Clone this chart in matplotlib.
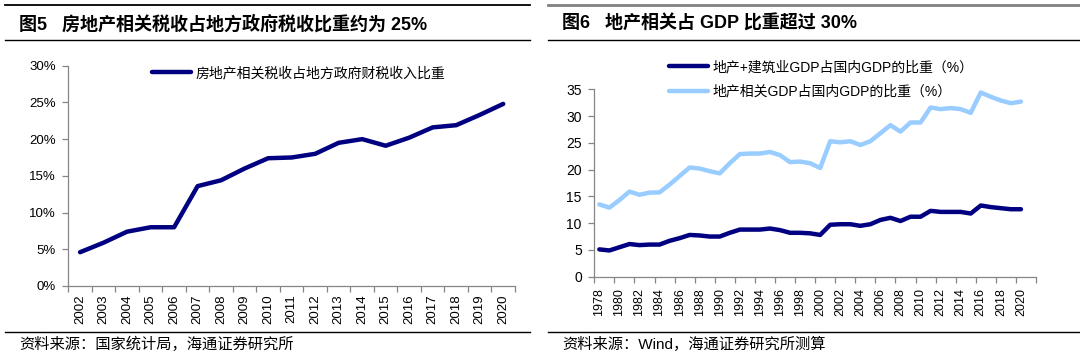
import matplotlib
matplotlib.use('Agg')
import matplotlib.pyplot as plt
from matplotlib.lines import Line2D
from matplotlib.ticker import FuncFormatter
import numpy as np

plt.rcParams['font.family'] = ['Liberation Sans', 'Noto Sans CJK SC']

# ---------------- data ----------------
years_left = [str(y) for y in range(2002, 2021)]
tax_share = [4.6, 5.9, 7.4, 8.0, 8.0, 13.6, 14.4, 16.0, 17.4, 17.5,
             18.0, 19.5, 20.0, 19.1, 20.2, 21.6, 21.9, 23.3, 24.8]

years_right = [str(y) for y in range(1978, 2021)]
re_construction = [5.1, 4.9, 5.5, 6.1, 5.9, 6.0, 6.0, 6.7, 7.2, 7.8,
                   7.7, 7.5, 7.5, 8.2, 8.8, 8.8, 8.8, 9.0, 8.7, 8.2,
                   8.2, 8.1, 7.8, 9.7, 9.8, 9.8, 9.5, 9.8, 10.6, 11.0,
                   10.4, 11.2, 11.2, 12.3, 12.1, 12.1, 12.1, 11.8, 13.3, 13.0,
                   12.8, 12.6, 12.6]
re_related = [13.5, 12.9, 14.3, 15.9, 15.3, 15.7, 15.75, 17.2, 18.8, 20.4,
              20.2, 19.7, 19.3, 21.2, 22.9, 23.0, 23.0, 23.3, 22.7, 21.4,
              21.5, 21.2, 20.3, 25.3, 25.1, 25.3, 24.6, 25.3, 26.8, 28.3,
              27.1, 28.8, 28.8, 31.6, 31.3, 31.5, 31.3, 30.6, 34.4, 33.6,
              32.9, 32.4, 32.7]

left_label = '房地产相关税收占地方政府财税收入比重'
right_label1 = '地产+建筑业GDP占国内GDP的比重（%）'
right_label2 = '地产相关GDP占国内GDP的比重（%）'

title_left = '图5   房地产相关税收占地方政府税收比重约为 25%'
title_right = '图6   地产相关占 GDP 比重超过 30%'
source_left = '资料来源：国家统计局，海通证券研究所'
source_right = '资料来源：Wind，海通证券研究所测算'

NAVY = '#000080'
LIGHT = '#99CCFF'
SPINE = '#868686'

W, H = 1080, 359
fig = plt.figure(figsize=(W / 100, H / 100), dpi=100)


def fx(px):
    return px / W


def fy(py):
    return 1 - py / H


def rule(x0, x1, y, color='black', lw=1.0):
    fig.add_artist(Line2D([fx(x0), fx(x1)], [fy(y), fy(y)],
                          transform=fig.transFigure, color=color, lw=lw))


def style_axes(ax):
    for s in ['top', 'right']:
        ax.spines[s].set_visible(False)
    for s in ['left', 'bottom']:
        ax.spines[s].set_color(SPINE)
        ax.spines[s].set_linewidth(0.9)
    ax.tick_params(axis='y', which='major', direction='out', length=4,
                   color=SPINE, width=0.9, pad=5)
    ax.tick_params(axis='x', which='major', length=0, pad=6)
    ax.tick_params(axis='x', which='minor', direction='out', length=4,
                   color=SPINE, width=0.9)


# ---------------- left chart ----------------
axL = fig.add_axes([fx(68.3), fy(286), fx(515) - fx(68.3), fy(65.7) - fy(286)])
xl = np.arange(len(years_left))
lineL, = axL.plot(xl, tax_share, color=NAVY, lw=3.2,
                  solid_joinstyle='round', solid_capstyle='round')
axL.set_xlim(-0.5, len(years_left) - 0.5)
axL.set_ylim(0, 30)
axL.set_yticks(np.arange(0, 31, 5))
axL.yaxis.set_major_formatter(FuncFormatter(lambda v, p: f'{int(v)}%'))
axL.set_xticks(xl)
axL.set_xticklabels(years_left, rotation=90, fontsize=9.5)
axL.set_xticks(np.arange(-0.5, len(years_left), 1), minor=True)
style_axes(axL)
for t in axL.get_yticklabels():
    t.set_fontsize(9.5)
axL.legend([lineL], [left_label], loc='upper left', frameon=False,
           bbox_to_anchor=(fx(151.7), fy(66)), bbox_transform=fig.transFigure,
           fontsize=10, handlelength=2.8, handletextpad=0.35, borderpad=0,
           borderaxespad=0)

# ---------------- right chart ----------------
axR = fig.add_axes([fx(594.3), fy(276.7), fx(1036) - fx(594.3), fy(89.3) - fy(276.7)])
xr = np.arange(len(years_right))
l1, = axR.plot(xr, re_construction, color=NAVY, lw=3.2,
               solid_joinstyle='round', solid_capstyle='round')
l2, = axR.plot(xr, re_related, color=LIGHT, lw=3.2,
               solid_joinstyle='round', solid_capstyle='round')
axR.set_xlim(-0.5, len(years_right) + 0.5)
axR.set_ylim(0, 35)
axR.set_yticks(np.arange(0, 36, 5))
axR.set_xticks(xr[::2])
axR.set_xticklabels(years_right[::2], rotation=90, fontsize=9)
axR.set_xticks(np.arange(-0.5, len(years_right) + 1, 2), minor=True)
style_axes(axR)
axR.tick_params(axis='x', which='major', pad=8)
for t in axR.get_yticklabels():
    t.set_fontsize(10)
axR.legend([l1, l2], [right_label1, right_label2], loc='upper left', frameon=False,
           bbox_to_anchor=(fx(669), fy(60)), bbox_transform=fig.transFigure,
           fontsize=10, handlelength=2.8, handletextpad=0.35, borderpad=0,
           borderaxespad=0, labelspacing=0.75)

# ---------------- titles, rules, sources ----------------
rule(5, 530, 5, color='black', lw=1.3)
rule(5, 530, 40, color='black', lw=1.0)
rule(548, 1080, 5, color='#808080', lw=2.0)
rule(548, 1080, 40, color='black', lw=1.0)
rule(5, 530, 331.7, color='black', lw=1.0)
rule(548, 1080, 332.3, color='black', lw=1.0)

fig.text(fx(19), fy(24), title_left, fontsize=13, fontweight='bold',
         ha='left', va='center')
fig.text(fx(562), fy(24), title_right, fontsize=13, fontweight='bold',
         ha='left', va='center')
fig.text(fx(19), fy(344), source_left, fontsize=11, ha='left', va='center')
fig.text(fx(562), fy(344), source_right, fontsize=11, ha='left', va='center')

fig.savefig('out.png', dpi=100)
